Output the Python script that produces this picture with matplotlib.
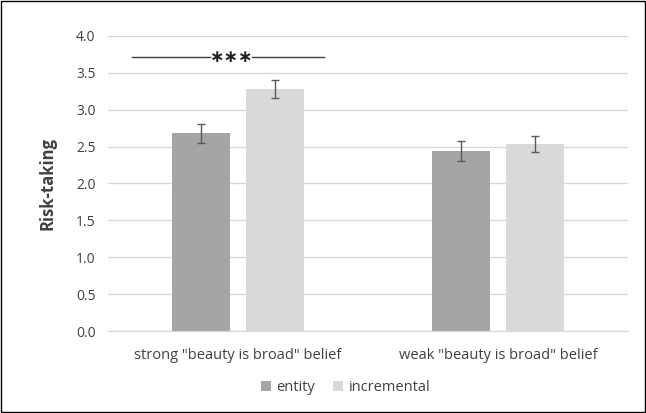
import numpy as np
import matplotlib
matplotlib.use("Agg")
import matplotlib.pyplot as plt
from matplotlib.patches import Rectangle

# Data
categories = ['strong "beauty is broad" belief', 'weak "beauty is broad" belief']
series_names = ["entity", "incremental"]
entity_vals = [2.68, 2.44]
entity_err = [0.13, 0.14]
incremental_vals = [3.28, 2.54]
incremental_err = [0.12, 0.11]
y_ticks = [0.0, 0.5, 1.0, 1.5, 2.0, 2.5, 3.0, 3.5, 4.0]

COLORS = ["#a5a5a5", "#d9d9d9"]
plt.rcParams["font.family"] = ["Open Sans", "DejaVu Sans"]

fig = plt.figure(figsize=(6.46, 4.13), dpi=100)
ax = fig.add_axes([0.167, 0.1985, 0.805, 0.7145])

x = np.arange(len(categories))
width = 0.223
offset = 0.142
ax.bar(x - offset, entity_vals, width, color=COLORS[0], label=series_names[0], zorder=2)
ax.bar(x + offset, incremental_vals, width, color=COLORS[1], label=series_names[1], zorder=2)
ax.errorbar(x - offset, entity_vals, yerr=entity_err, fmt="none", ecolor="#595959",
            elinewidth=1, capsize=3, capthick=1, zorder=3)
ax.errorbar(x + offset, incremental_vals, yerr=incremental_err, fmt="none", ecolor="#595959",
            elinewidth=1, capsize=3, capthick=1, zorder=3)

# significance marker
ax.plot([-0.408, -0.108], [3.72, 3.72], color="#404040", lw=1, zorder=3)
ax.plot([0.055, 0.331], [3.72, 3.72], color="#404040", lw=1, zorder=3)
ax.text(-0.025, 3.72, "\u2217\u2217\u2217", ha="center", va="center", fontsize=12.5,
        color="#202020", family="DejaVu Sans", fontweight="bold")

ax.set_xlim(-0.5, 1.5)
ax.set_ylim(0, 4.0)
ax.set_yticks(y_ticks)
ax.set_yticklabels([f"{v:.1f}" for v in y_ticks], fontsize=10, color="#404040")
ax.set_xticks(x)
ax.set_xticklabels(categories, fontsize=10.5, color="#404040")
ax.tick_params(axis="y", length=0, pad=9)
ax.tick_params(axis="x", length=0, pad=12)
ax.yaxis.grid(True, color="#d9d9d9", lw=1, zorder=0)
ax.set_axisbelow(True)
for side in ["top", "right", "left"]:
    ax.spines[side].set_visible(False)
ax.spines["bottom"].set_color("#d9d9d9")
ax.set_ylabel("Risk-taking", fontsize=12, fontweight="bold", color="#404040", labelpad=14)

fig.legend(loc="lower center", bbox_to_anchor=(0.535, 0.012), ncol=2, frameon=False,
           fontsize=10.5, handlelength=0.7, handleheight=0.7, handletextpad=0.4,
           columnspacing=1.2, labelcolor="#404040")

fig.patches.append(Rectangle((0.002, 0.002), 0.996, 0.996, transform=fig.transFigure,
                             fill=False, edgecolor="black", lw=1))

fig.savefig("out.png", dpi=100)
